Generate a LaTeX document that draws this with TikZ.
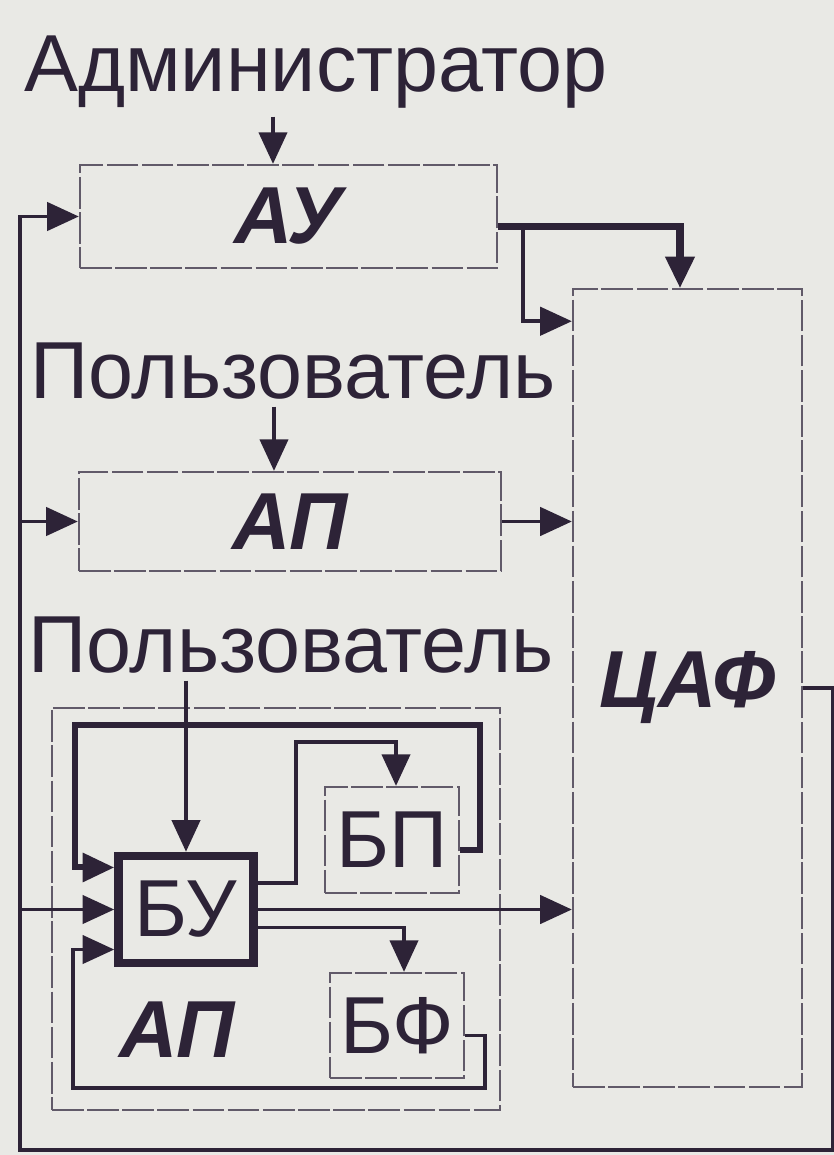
\documentclass[tikz,border=0pt]{standalone}
\usepackage{fontspec}
\setmainfont{Liberation Sans}
\usetikzlibrary{arrows.meta}
\definecolor{ink}{RGB}{45,35,55}
\definecolor{paper}{RGB}{233,233,229}
\newcommand{\lblfont}{\fontsize{23}{27}\selectfont}
\newcommand{\bifont}{\fontsize{23}{27}\selectfont\bfseries\itshape}

\begin{document}
\begin{tikzpicture}[x=0.01cm,y=-0.01cm,
  blk/.style={draw=ink!75, line width=0.6pt, dash pattern=on 9pt off 1pt, inner sep=0pt, font=\bifont, text=ink},
  sub/.style={draw=ink!75, line width=0.6pt, dash pattern=on 9pt off 1pt, inner sep=0pt, font=\lblfont, text=ink},
  lbl/.style={font=\lblfont, text=ink, inner sep=2pt},
  arr/.style={draw=ink, line width=1.1pt, -{Triangle[length=9pt,width=8pt]}},
  tarr/.style={arr, line width=2pt}]
  \useasboundingbox[fill=paper] (0,0) rectangle (834,1155);
  % upper part
  \node[lbl, anchor=base] (adm) at (316,92) {Администратор};
  \node[blk, minimum width=4.17cm, minimum height=1.03cm] (au) at (288.5,216.5) {АУ};
  \node[lbl, anchor=base] (usr1) at (293,398) {Пользователь};
  \node[blk, minimum width=4.22cm, minimum height=0.99cm] (ap) at (290,521.5) {АП};
  \node[lbl, anchor=base] (usr2) at (291,672) {Пользователь};
  \node[blk, minimum width=2.29cm, minimum height=7.97cm] (caf) at (687.5,688) {ЦАФ};
  % inner AP
  \node[draw=ink!75, line width=0.5pt, dash pattern=on 9pt off 1pt, minimum width=4.48cm, minimum height=4.02cm] (apin) at (276,909) {};
  \node[draw=ink, line width=2.4pt, inner sep=0pt, font=\lblfont, text=ink, minimum width=1.35cm, minimum height=1.07cm] (bu) at (186,909.5) {БУ};
  \node[sub, minimum width=1.34cm, minimum height=1.06cm] (bp) at (392,840) {БП};
  \node[sub, minimum width=1.34cm, minimum height=1.05cm] (bf) at (397,1025.5) {БФ};
  \node[font=\bifont, text=ink] (aplbl) at (177,1030) {АП};
  \coordinate (fb) at (20,1150);

  \draw[arr] ([xshift=-0.155cm]au.north |- adm.south) -- ([xshift=-0.155cm]au.north);
  \draw[arr] ([xshift=-0.16cm]ap.north |- usr1.south) -- ([xshift=-0.16cm]ap.north);
  \draw[arr] (bu.north |- usr2.south) -- (bu.north);
  \draw[tarr] ([yshift=-0.1cm]au.east) -| ([xshift=-0.075cm]caf.north);
  \draw[arr] ([shift={(0.25cm,-0.1cm)}]au.east) |- ([yshift=-0.33cm]caf.north west);
  \draw[arr] (ap.east) -- (ap.east -| caf.west);
  % feedback from CAF
  \draw[arr] (caf.east) -- ++(0.3cm,0) |- (fb) |- (au.west);
  \draw[arr] (fb |- ap.west) -- (ap.west);
  \draw[arr] (fb |- bu.west) -- (bu.west);
  % inside AP
  \draw[arr, line width=1.7pt] ([yshift=-0.1cm]bp.east) -- ++(0.2cm,0) |- (75,725) |- ([yshift=0.42cm]bu.west);
  \draw[arr] ([yshift=0.265cm]bu.east) -| (296,742) -| ([xshift=0.04cm]bp.north);
  \draw[arr] (bu.east) -- (bu.east -| caf.west);
  \draw[arr] ([yshift=-0.18cm]bu.east) -| ([xshift=0.07cm]bf.north);
  \draw[arr] ([yshift=-0.1cm]bf.east) -- ++(0.2cm,0) |- (73,1088) |- ([yshift=-0.4cm]bu.west);
\end{tikzpicture}
\end{document}
